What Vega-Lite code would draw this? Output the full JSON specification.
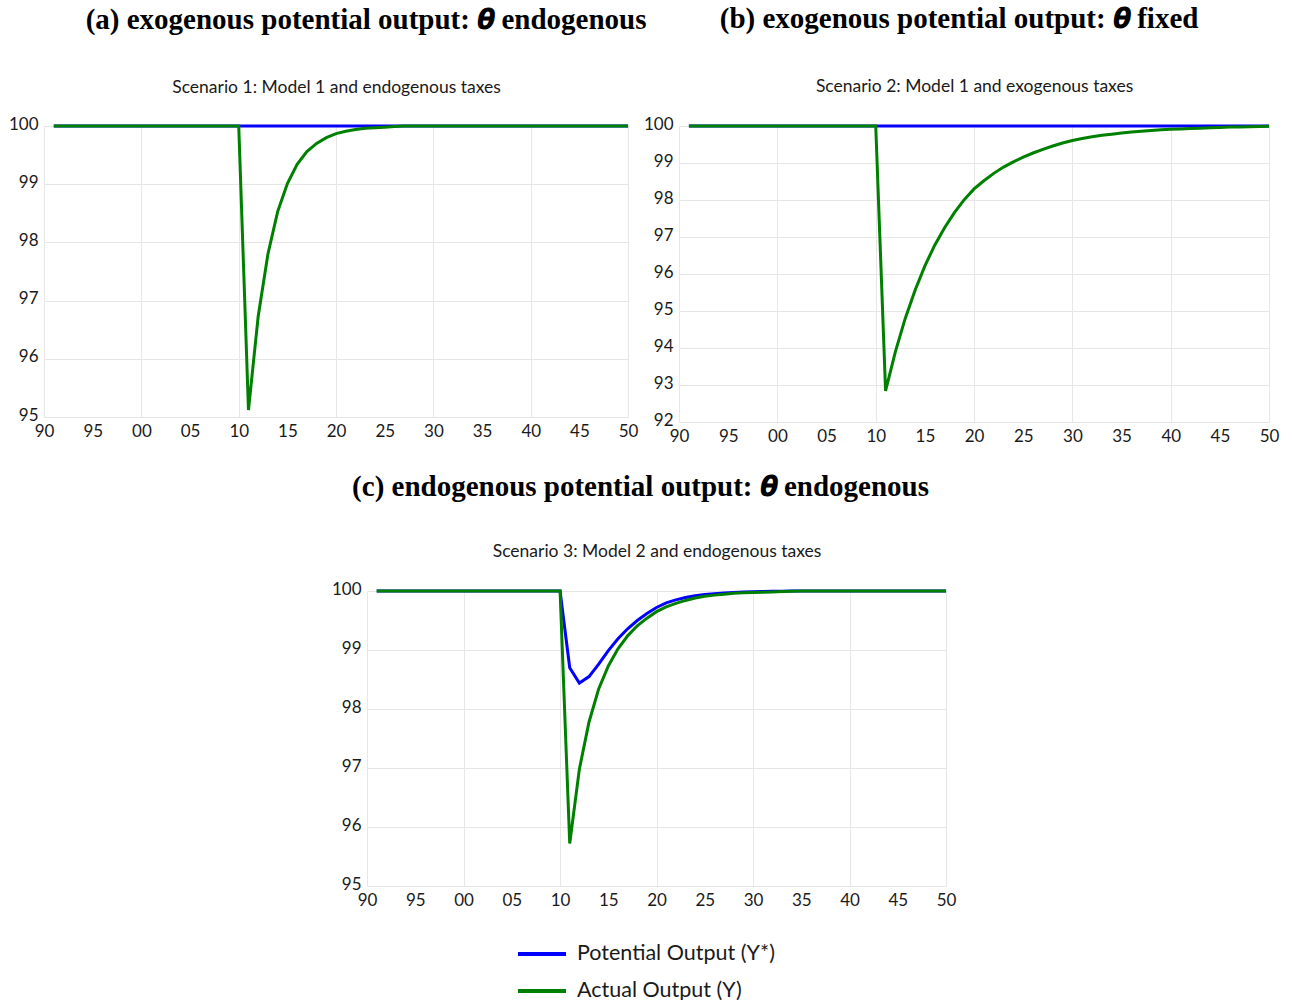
{
  "$schema": "https://vega.github.io/schema/vega-lite/v6.json",
  "padding": {"left": 8, "top": 5, "right": 10, "bottom": 10},
  "background": "white",
  "data": {"values": [
    {"year":1991,"s":"Potential Output (Y*)","a":100,"b":100,"c":100},
    {"year":1992,"s":"Potential Output (Y*)","a":100,"b":100,"c":100},
    {"year":1993,"s":"Potential Output (Y*)","a":100,"b":100,"c":100},
    {"year":1994,"s":"Potential Output (Y*)","a":100,"b":100,"c":100},
    {"year":1995,"s":"Potential Output (Y*)","a":100,"b":100,"c":100},
    {"year":1996,"s":"Potential Output (Y*)","a":100,"b":100,"c":100},
    {"year":1997,"s":"Potential Output (Y*)","a":100,"b":100,"c":100},
    {"year":1998,"s":"Potential Output (Y*)","a":100,"b":100,"c":100},
    {"year":1999,"s":"Potential Output (Y*)","a":100,"b":100,"c":100},
    {"year":2000,"s":"Potential Output (Y*)","a":100,"b":100,"c":100},
    {"year":2001,"s":"Potential Output (Y*)","a":100,"b":100,"c":100},
    {"year":2002,"s":"Potential Output (Y*)","a":100,"b":100,"c":100},
    {"year":2003,"s":"Potential Output (Y*)","a":100,"b":100,"c":100},
    {"year":2004,"s":"Potential Output (Y*)","a":100,"b":100,"c":100},
    {"year":2005,"s":"Potential Output (Y*)","a":100,"b":100,"c":100},
    {"year":2006,"s":"Potential Output (Y*)","a":100,"b":100,"c":100},
    {"year":2007,"s":"Potential Output (Y*)","a":100,"b":100,"c":100},
    {"year":2008,"s":"Potential Output (Y*)","a":100,"b":100,"c":100},
    {"year":2009,"s":"Potential Output (Y*)","a":100,"b":100,"c":100},
    {"year":2010,"s":"Potential Output (Y*)","a":100,"b":100,"c":100},
    {"year":2011,"s":"Potential Output (Y*)","a":100,"b":100,"c":98.70},
    {"year":2012,"s":"Potential Output (Y*)","a":100,"b":100,"c":98.44},
    {"year":2013,"s":"Potential Output (Y*)","a":100,"b":100,"c":98.55},
    {"year":2014,"s":"Potential Output (Y*)","a":100,"b":100,"c":98.76},
    {"year":2015,"s":"Potential Output (Y*)","a":100,"b":100,"c":98.99},
    {"year":2016,"s":"Potential Output (Y*)","a":100,"b":100,"c":99.19},
    {"year":2017,"s":"Potential Output (Y*)","a":100,"b":100,"c":99.36},
    {"year":2018,"s":"Potential Output (Y*)","a":100,"b":100,"c":99.50},
    {"year":2019,"s":"Potential Output (Y*)","a":100,"b":100,"c":99.62},
    {"year":2020,"s":"Potential Output (Y*)","a":100,"b":100,"c":99.72},
    {"year":2021,"s":"Potential Output (Y*)","a":100,"b":100,"c":99.80},
    {"year":2022,"s":"Potential Output (Y*)","a":100,"b":100,"c":99.85},
    {"year":2023,"s":"Potential Output (Y*)","a":100,"b":100,"c":99.89},
    {"year":2024,"s":"Potential Output (Y*)","a":100,"b":100,"c":99.92},
    {"year":2025,"s":"Potential Output (Y*)","a":100,"b":100,"c":99.94},
    {"year":2026,"s":"Potential Output (Y*)","a":100,"b":100,"c":99.955},
    {"year":2027,"s":"Potential Output (Y*)","a":100,"b":100,"c":99.965},
    {"year":2028,"s":"Potential Output (Y*)","a":100,"b":100,"c":99.975},
    {"year":2029,"s":"Potential Output (Y*)","a":100,"b":100,"c":99.982},
    {"year":2030,"s":"Potential Output (Y*)","a":100,"b":100,"c":99.988},
    {"year":2031,"s":"Potential Output (Y*)","a":100,"b":100,"c":99.992},
    {"year":2032,"s":"Potential Output (Y*)","a":100,"b":100,"c":99.995},
    {"year":2033,"s":"Potential Output (Y*)","a":100,"b":100,"c":99.997},
    {"year":2034,"s":"Potential Output (Y*)","a":100,"b":100,"c":100},
    {"year":2035,"s":"Potential Output (Y*)","a":100,"b":100,"c":100},
    {"year":2036,"s":"Potential Output (Y*)","a":100,"b":100,"c":100},
    {"year":2037,"s":"Potential Output (Y*)","a":100,"b":100,"c":100},
    {"year":2038,"s":"Potential Output (Y*)","a":100,"b":100,"c":100},
    {"year":2039,"s":"Potential Output (Y*)","a":100,"b":100,"c":100},
    {"year":2040,"s":"Potential Output (Y*)","a":100,"b":100,"c":100},
    {"year":2041,"s":"Potential Output (Y*)","a":100,"b":100,"c":100},
    {"year":2042,"s":"Potential Output (Y*)","a":100,"b":100,"c":100},
    {"year":2043,"s":"Potential Output (Y*)","a":100,"b":100,"c":100},
    {"year":2044,"s":"Potential Output (Y*)","a":100,"b":100,"c":100},
    {"year":2045,"s":"Potential Output (Y*)","a":100,"b":100,"c":100},
    {"year":2046,"s":"Potential Output (Y*)","a":100,"b":100,"c":100},
    {"year":2047,"s":"Potential Output (Y*)","a":100,"b":100,"c":100},
    {"year":2048,"s":"Potential Output (Y*)","a":100,"b":100,"c":100},
    {"year":2049,"s":"Potential Output (Y*)","a":100,"b":100,"c":100},
    {"year":2050,"s":"Potential Output (Y*)","a":100,"b":100,"c":100},
    {"year":1991,"s":"Actual Output (Y)","a":100,"b":100,"c":100},
    {"year":1992,"s":"Actual Output (Y)","a":100,"b":100,"c":100},
    {"year":1993,"s":"Actual Output (Y)","a":100,"b":100,"c":100},
    {"year":1994,"s":"Actual Output (Y)","a":100,"b":100,"c":100},
    {"year":1995,"s":"Actual Output (Y)","a":100,"b":100,"c":100},
    {"year":1996,"s":"Actual Output (Y)","a":100,"b":100,"c":100},
    {"year":1997,"s":"Actual Output (Y)","a":100,"b":100,"c":100},
    {"year":1998,"s":"Actual Output (Y)","a":100,"b":100,"c":100},
    {"year":1999,"s":"Actual Output (Y)","a":100,"b":100,"c":100},
    {"year":2000,"s":"Actual Output (Y)","a":100,"b":100,"c":100},
    {"year":2001,"s":"Actual Output (Y)","a":100,"b":100,"c":100},
    {"year":2002,"s":"Actual Output (Y)","a":100,"b":100,"c":100},
    {"year":2003,"s":"Actual Output (Y)","a":100,"b":100,"c":100},
    {"year":2004,"s":"Actual Output (Y)","a":100,"b":100,"c":100},
    {"year":2005,"s":"Actual Output (Y)","a":100,"b":100,"c":100},
    {"year":2006,"s":"Actual Output (Y)","a":100,"b":100,"c":100},
    {"year":2007,"s":"Actual Output (Y)","a":100,"b":100,"c":100},
    {"year":2008,"s":"Actual Output (Y)","a":100,"b":100,"c":100},
    {"year":2009,"s":"Actual Output (Y)","a":100,"b":100,"c":100},
    {"year":2010,"s":"Actual Output (Y)","a":100,"b":100,"c":100},
    {"year":2011,"s":"Actual Output (Y)","a":95.12,"b":92.84,"c":95.72},
    {"year":2012,"s":"Actual Output (Y)","a":96.73,"b":93.90,"c":96.98},
    {"year":2013,"s":"Actual Output (Y)","a":97.80,"b":94.80,"c":97.78},
    {"year":2014,"s":"Actual Output (Y)","a":98.53,"b":95.56,"c":98.34},
    {"year":2015,"s":"Actual Output (Y)","a":99.01,"b":96.22,"c":98.73},
    {"year":2016,"s":"Actual Output (Y)","a":99.34,"b":96.78,"c":99.02},
    {"year":2017,"s":"Actual Output (Y)","a":99.56,"b":97.25,"c":99.24},
    {"year":2018,"s":"Actual Output (Y)","a":99.70,"b":97.66,"c":99.41},
    {"year":2019,"s":"Actual Output (Y)","a":99.80,"b":98.01,"c":99.54},
    {"year":2020,"s":"Actual Output (Y)","a":99.87,"b":98.30,"c":99.65},
    {"year":2021,"s":"Actual Output (Y)","a":99.91,"b":98.52,"c":99.73},
    {"year":2022,"s":"Actual Output (Y)","a":99.94,"b":98.72,"c":99.79},
    {"year":2023,"s":"Actual Output (Y)","a":99.96,"b":98.89,"c":99.84},
    {"year":2024,"s":"Actual Output (Y)","a":99.97,"b":99.03,"c":99.88},
    {"year":2025,"s":"Actual Output (Y)","a":99.98,"b":99.16,"c":99.91},
    {"year":2026,"s":"Actual Output (Y)","a":99.99,"b":99.27,"c":99.93},
    {"year":2027,"s":"Actual Output (Y)","a":100,"b":99.37,"c":99.945},
    {"year":2028,"s":"Actual Output (Y)","a":100,"b":99.46,"c":99.96},
    {"year":2029,"s":"Actual Output (Y)","a":100,"b":99.54,"c":99.97},
    {"year":2030,"s":"Actual Output (Y)","a":100,"b":99.61,"c":99.975},
    {"year":2031,"s":"Actual Output (Y)","a":100,"b":99.66,"c":99.98},
    {"year":2032,"s":"Actual Output (Y)","a":100,"b":99.71,"c":99.985},
    {"year":2033,"s":"Actual Output (Y)","a":100,"b":99.75,"c":99.99},
    {"year":2034,"s":"Actual Output (Y)","a":100,"b":99.78,"c":99.995},
    {"year":2035,"s":"Actual Output (Y)","a":100,"b":99.81,"c":100},
    {"year":2036,"s":"Actual Output (Y)","a":100,"b":99.84,"c":100},
    {"year":2037,"s":"Actual Output (Y)","a":100,"b":99.86,"c":100},
    {"year":2038,"s":"Actual Output (Y)","a":100,"b":99.88,"c":100},
    {"year":2039,"s":"Actual Output (Y)","a":100,"b":99.90,"c":100},
    {"year":2040,"s":"Actual Output (Y)","a":100,"b":99.91,"c":100},
    {"year":2041,"s":"Actual Output (Y)","a":100,"b":99.92,"c":100},
    {"year":2042,"s":"Actual Output (Y)","a":100,"b":99.93,"c":100},
    {"year":2043,"s":"Actual Output (Y)","a":100,"b":99.94,"c":100},
    {"year":2044,"s":"Actual Output (Y)","a":100,"b":99.95,"c":100},
    {"year":2045,"s":"Actual Output (Y)","a":100,"b":99.96,"c":100},
    {"year":2046,"s":"Actual Output (Y)","a":100,"b":99.97,"c":100},
    {"year":2047,"s":"Actual Output (Y)","a":100,"b":99.975,"c":100},
    {"year":2048,"s":"Actual Output (Y)","a":100,"b":99.98,"c":100},
    {"year":2049,"s":"Actual Output (Y)","a":100,"b":99.985,"c":100},
    {"year":2050,"s":"Actual Output (Y)","a":100,"b":99.99,"c":100}
  ]},
  "vconcat": [
    {
      "hconcat": [
        {
          "width": 584, "height": 291,
          "title": {"text": "(a) exogenous potential output: 𝜽 endogenous", "dx": 30, "offset": 43},
          "layer": [
            {
              "mark": {"type": "line", "strokeWidth": 3},
              "encoding": {
                "x": {"field": "year", "type": "quantitative", "scale": {"domain": [1990, 2050], "nice": false, "zero": false},
                      "axis": {"values": [1990,1995,2000,2005,2010,2015,2020,2025,2030,2035,2040,2045,2050], "format": "d", "labelExpr": "substring(datum.label, 2, 4)", "title": null, "grid": true, "gridOpacity": {"condition": {"test": "datum.value % 10 === 0", "value": 1}, "value": 0}}},
                "y": {"field": "a", "type": "quantitative", "scale": {"domain": [95, 100], "nice": false, "zero": false},
                      "axis": {"values": [95,96,97,98,99,100], "title": null}},
                "color": {"field": "s", "type": "nominal", "sort": null,
                          "scale": {"domain": ["Potential Output (Y*)", "Actual Output (Y)"], "range": ["#0000ff", "#008000"]},
                          "legend": {"title": null, "orient": "none", "legendX": 472, "legendY": 802, "direction": "vertical"}}
              }
            },
            {
              "mark": {"type": "line", "opacity": 0},
              "encoding": {
                "x": {"field": "year", "type": "quantitative", "axis": {"orient": "top", "title": "Scenario 1: Model 1 and endogenous taxes", "labels": false, "ticks": false, "domain": false, "grid": false, "titlePadding": 30}},
                "y": {"field": "a", "type": "quantitative", "axis": null}
              }
            }
          ],
          "resolve": {"axis": {"x": "independent", "y": "independent"}}
        },
        {
          "width": 590, "height": 296,
          "title": {"text": "(b) exogenous potential output: 𝜽 fixed", "dx": -15, "offset": 43},
          "layer": [
            {
              "mark": {"type": "line", "strokeWidth": 3},
              "encoding": {
                "x": {"field": "year", "type": "quantitative", "scale": {"domain": [1990, 2050], "nice": false, "zero": false},
                      "axis": {"values": [1990,1995,2000,2005,2010,2015,2020,2025,2030,2035,2040,2045,2050], "format": "d", "labelExpr": "substring(datum.label, 2, 4)", "title": null, "grid": true, "gridOpacity": {"condition": {"test": "datum.value % 10 === 0", "value": 1}, "value": 0}}},
                "y": {"field": "b", "type": "quantitative", "scale": {"domain": [92, 100], "nice": false, "zero": false},
                      "axis": {"values": [92,93,94,95,96,97,98,99,100], "title": null}},
                "color": {"field": "s", "type": "nominal", "sort": null,
                          "scale": {"domain": ["Potential Output (Y*)", "Actual Output (Y)"], "range": ["#0000ff", "#008000"]},
                          "legend": {"title": null, "orient": "none", "legendX": 472, "legendY": 802, "direction": "vertical"}}
              }
            },
            {
              "mark": {"type": "line", "opacity": 0},
              "encoding": {
                "x": {"field": "year", "type": "quantitative", "axis": {"orient": "top", "title": "Scenario 2: Model 1 and exogenous taxes", "labels": false, "ticks": false, "domain": false, "grid": false, "titlePadding": 31}},
                "y": {"field": "b", "type": "quantitative", "axis": null}
              }
            }
          ],
          "resolve": {"axis": {"x": "independent", "y": "independent"}}
        }
      ],
      "spacing": 51,
      "bounds": "flush"
    },
    {
      "width": 579, "height": 295,
      "title": {"text": "(c) endogenous potential output: 𝜽 endogenous", "dx": -16, "offset": 40},
      "layer": [
        {
          "mark": {"type": "line", "strokeWidth": 3},
          "encoding": {
            "x": {"field": "year", "type": "quantitative", "scale": {"domain": [1990, 2050], "nice": false, "zero": false},
                  "axis": {"values": [1990,1995,2000,2005,2010,2015,2020,2025,2030,2035,2040,2045,2050], "format": "d", "labelExpr": "substring(datum.label, 2, 4)", "title": null, "grid": true, "gridOpacity": {"condition": {"test": "datum.value % 10 === 0", "value": 1}, "value": 0}}},
            "y": {"field": "c", "type": "quantitative", "scale": {"domain": [95, 100], "nice": false, "zero": false},
                  "axis": {"values": [95,96,97,98,99,100], "title": null}},
            "color": {"field": "s", "type": "nominal", "sort": null,
                      "scale": {"domain": ["Potential Output (Y*)", "Actual Output (Y)"], "range": ["#0000ff", "#008000"]},
                      "legend": {"title": null, "orient": "none", "legendX": 472, "legendY": 802, "direction": "vertical"}}
          }
        },
        {
          "mark": {"type": "line", "opacity": 0},
          "encoding": {
            "x": {"field": "year", "type": "quantitative", "axis": {"orient": "top", "title": "Scenario 3: Model 2 and endogenous taxes", "labels": false, "ticks": false, "domain": false, "grid": false, "titlePadding": 31}},
            "y": {"field": "c", "type": "quantitative", "axis": null}
          }
        }
      ],
      "resolve": {"axis": {"x": "independent", "y": "independent"}}
    }
  ],
  "spacing": 29,
  "center": true,
  "config": {
    "view": {"stroke": null},
    "font": "Lato",
    "axis": {"labelFont": "Lato", "labelFontSize": 17, "labelColor": "#1a1a1a", "labelPadding": 6, "labelFlush": false, "labelOverlap": false,
             "domain": false, "ticks": false, "gridColor": "#e6e6e6", "gridWidth": 1,
             "titleFont": "Lato", "titleFontSize": 17.5, "titleFontWeight": "normal", "titleColor": "#1a1a1a"},
    "axisY": {"labelOffset": -2},
    "title": {"font": "Liberation Serif", "fontSize": 29, "fontWeight": "bold", "color": "#000000", "anchor": "middle", "frame": "group"},
    "legend": {"symbolType": "stroke", "symbolStrokeWidth": 4, "symbolSize": 2304, "labelFont": "Lato", "labelFontSize": 21.5, "labelLimit": 0, "labelColor": "#1a1a1a", "labelOffset": 9, "rowPadding": -22, "padding": 0}
  }
}
